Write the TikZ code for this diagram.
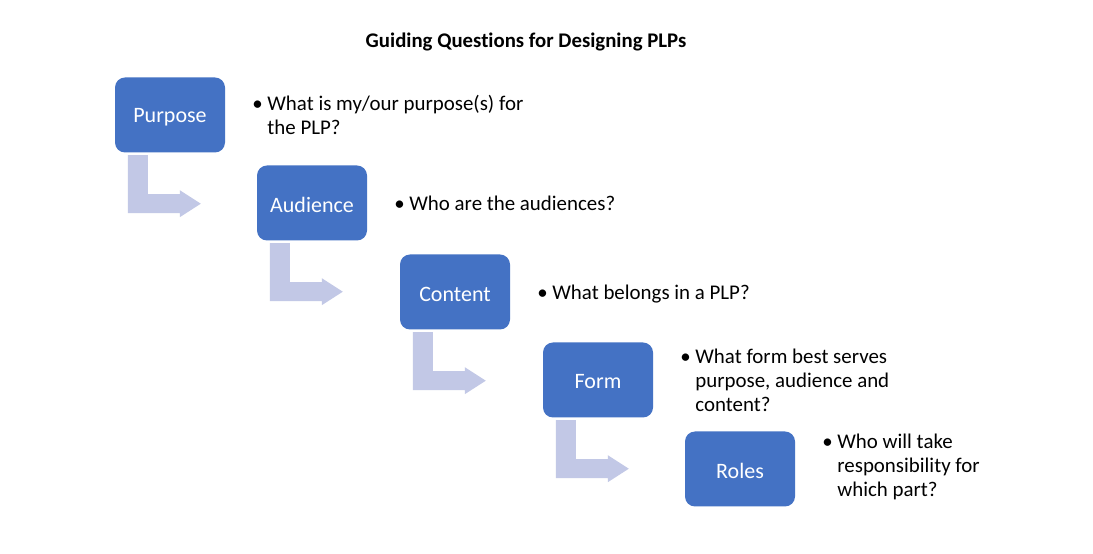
\documentclass[tikz,border=0pt]{standalone}
\usepackage{fontspec}
\setmainfont{Carlito}[Ligatures=NoCommon]
\usetikzlibrary{calc}
\definecolor{boxblue}{RGB}{68,114,196}
\definecolor{arrowfill}{RGB}{194,200,230}
\tikzset{
  stagebox/.style={fill=boxblue, draw=none, rounded corners=10pt, minimum width=110pt, minimum height=75pt, inner sep=0pt, text=white, font=\fontsize{22}{26}\selectfont},
  qtext/.style={anchor=west, inner sep=0pt, font=\fontsize{20.9}{24}\selectfont},
  bentarrow/.style={fill=arrowfill, draw=none}
}
\newcommand{\bul}{\makebox[15pt][l]{•}}
\newcommand{\lowr}[1]{\raisebox{-2pt}[\height][\depth]{#1}}
\begin{document}
\begin{tikzpicture}[x=1pt,y=1pt]
\useasboundingbox[fill=white] (0,0) rectangle (1093,554);
\node[font=\bfseries\fontsize{20.8}{24}\selectfont] (title) at (526,512) {Guiding Questions for Designing PLPs};
\node[stagebox] (p) at (170,439) {\lowr{Purpose}};
\node[stagebox] (a) at (312,351) {\lowr{Audience}};
\node[stagebox] (c) at (455,262) {\lowr{Content}};
\node[stagebox] (f) at (598,174) {\lowr{Form}};
\node[stagebox] (r) at (740,85) {\lowr{Roles}};
\foreach \b in {p,a,c,f}{
  \fill[bentarrow] ($(\b.south west)+(13,-2.5)$) -- ($(\b.south west)+(33,-2.5)$) -- ($(\b.south west)+(33,-41.5)$) -- ($(\b.south west)+(65,-41.5)$) -- ($(\b.south west)+(65,-37.5)$) -- ($(\b.south west)+(86,-51)$) -- ($(\b.south west)+(65,-64.5)$) -- ($(\b.south west)+(65,-60.5)$) -- ($(\b.south west)+(13,-60.5)$) -- cycle;
}
\node[qtext] (tp) at ($(p.east)+(27,-2.5)$) {\begin{tabular}{@{}l@{}l@{}}\bul&What is my/our purpose(s) for\\&the PLP?\end{tabular}};
\node[qtext] (ta) at ($(a.east)+(27,-3)$) {\begin{tabular}{@{}l@{}l@{}}\bul&Who are the audiences?\end{tabular}};
\node[qtext] (tc) at ($(c.east)+(27,-3)$) {\begin{tabular}{@{}l@{}l@{}}\bul&What belongs in a PLP?\end{tabular}};
\node[qtext] (tf) at ($(f.east)+(27,-3)$) {\begin{tabular}{@{}l@{}l@{}}\bul&What form best serves\\&purpose, audience and\\&content?\end{tabular}};
\node[qtext] (tr) at ($(r.east)+(27,1)$) {\begin{tabular}{@{}l@{}l@{}}\bul&Who will take\\&responsibility for\\&which part?\end{tabular}};
\end{tikzpicture}
\end{document}
